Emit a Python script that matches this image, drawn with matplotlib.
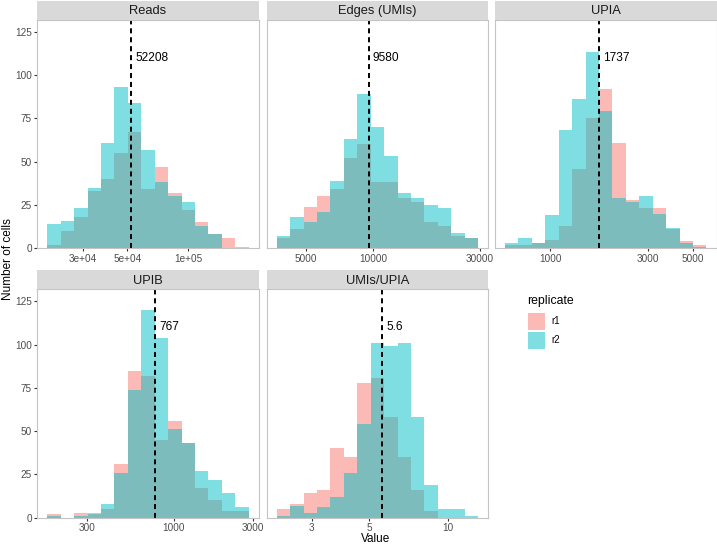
import numpy as np
import matplotlib
matplotlib.use("Agg")
import matplotlib.pyplot as plt
from matplotlib.patches import Rectangle
from matplotlib.ticker import FixedLocator, NullLocator, FixedFormatter

plt.rcParams['font.family'] = ['Liberation Sans', 'DejaVu Sans']

# ---------------- data ----------------
panels = ["Reads", "Edges (UMIs)", "UPIA", "UPIB", "UMIs/UPIA"]
replicates = ["r1", "r2"]

# outer bin edges (15 log-spaced bins) per panel
bin_lo = [20100, 3713, 602.6, 172.4, 2.203]
bin_hi = [199000, 29530, 5805, 2825, 13.10]

reads_r1 = [2, 10, 18, 33, 40, 55, 67, 34, 47, 32, 22, 15, 8, 6, 1]
reads_r2 = [14, 16, 23, 35, 61, 93, 84, 57, 38, 30, 27, 13, 8, 0, 0]
edges_r1 = [6, 11, 24, 30, 34, 52, 60, 38, 38, 29, 27, 15, 13, 7, 6]
edges_r2 = [7, 18, 15, 21, 39, 63, 89, 70, 53, 32, 29, 25, 23, 9, 6]
upia_r1 = [2, 2, 3, 5, 13, 46, 75, 92, 61, 28, 23, 23, 11, 4, 2]
upia_r2 = [3, 6, 3, 19, 68, 86, 113, 79, 29, 27, 30, 20, 12, 3, 1]
upib_r1 = [2, 0, 3, 3, 5, 31, 85, 82, 45, 56, 43, 17, 10, 4, 4]
upib_r2 = [1, 0, 1, 2, 8, 26, 74, 120, 104, 51, 43, 27, 22, 14, 6]
ratio_r1 = [5, 8, 14, 16, 40, 35, 78, 81, 58, 35, 16, 4, 0, 0, 0]
ratio_r2 = [1, 7, 3, 6, 12, 26, 54, 101, 99, 101, 58, 19, 5, 5, 1]

counts_r1 = [reads_r1, edges_r1, upia_r1, upib_r1, ratio_r1]
counts_r2 = [reads_r2, edges_r2, upia_r2, upib_r2, ratio_r2]

medians = [52208, 9580, 1737, 767, 5.6]
median_labels = ["52208", "9580", "1737", "767", "5.6"]

xticks = [[3e4, 5e4, 1e5], [5000, 10000, 30000], [1000, 3000, 5000],
          [300, 1000, 3000], [3, 5, 10]]
xtick_labels = [["3e+04", "5e+04", "1e+05"], ["5000", "10000", "30000"],
                ["1000", "3000", "5000"], ["300", "1000", "3000"],
                ["3", "5", "10"]]
yticks = [0, 25, 50, 75, 100, 125]

# ---------------- style ----------------
col_r1 = "#F8766D"
col_r2 = "#00BFC4"
W, H = 717, 545
fig = plt.figure(figsize=(W / 100, H / 100), dpi=100)


def fx(px):
    return px / W


def fy(py):
    return 1 - py / H


col_left = [37.3, 266.7, 495.0]
panel_w = 221.5
rows = [(19.5, 248.3), (289.3, 517.7)]
strip_h = 19.0
positions = [(0, 0), (0, 1), (0, 2), (1, 0), (1, 1)]

for i, name in enumerate(panels):
    r, c = positions[i]
    top, bot = rows[r]
    left = col_left[c]
    ax = fig.add_axes([fx(left), fy(bot), panel_w / W, (bot - top) / H])
    # strip
    sax = fig.add_axes([fx(left), fy(top), panel_w / W, strip_h / H])
    sax.set_facecolor("#D9D9D9")
    sax.set_xticks([]); sax.set_yticks([])
    for s in sax.spines.values():
        s.set_visible(False)
    sax.text(0.5, 0.45, name, ha="center", va="center", fontsize=9.3,
             color="#1A1A1A", transform=sax.transAxes)

    edges = np.logspace(np.log10(bin_lo[i]), np.log10(bin_hi[i]), 16)
    widths = np.diff(edges)
    ax.bar(edges[:-1], counts_r1[i], width=widths, align="edge",
           color=col_r1, alpha=0.5, linewidth=0)
    ax.bar(edges[:-1], counts_r2[i], width=widths, align="edge",
           color=col_r2, alpha=0.5, linewidth=0)
    ax.set_xscale("log")
    lr = np.log10(bin_hi[i]) - np.log10(bin_lo[i])
    ax.set_xlim(10 ** (np.log10(bin_lo[i]) - 0.05 * lr),
                10 ** (np.log10(bin_hi[i]) + 0.05 * lr))
    ax.set_ylim(0, 132)
    ax.xaxis.set_major_locator(FixedLocator(xticks[i]))
    ax.xaxis.set_major_formatter(FixedFormatter(xtick_labels[i]))
    ax.xaxis.set_minor_locator(NullLocator())
    ax.axvline(medians[i], color="black", lw=1.4, linestyle=(0, (2.6, 2.0)))
    ax.annotate(median_labels[i], xy=(medians[i], 110), xytext=(3, 0),
                textcoords="offset points", ha="left", va="center",
                fontsize=8.6, color="black")
    if c == 0:
        ax.set_yticks(yticks)
    else:
        ax.set_yticks([])
    ax.tick_params(axis="both", direction="out", length=2.4, width=0.8,
                   color="#333333", labelcolor="#4D4D4D", labelsize=7.2,
                   pad=1.5)
    for s in ax.spines.values():
        s.set_color("#C4C4C4")
        s.set_linewidth(0.8)

# axis titles
fig.text(fx(8), fy(259), "Number of cells", rotation=90, ha="center",
         va="center", fontsize=8.5, color="black")
fig.text(fx(376), fy(539), "Value", ha="center", va="center",
         fontsize=8.5, color="black")

# legend
fig.text(fx(527), fy(301), "replicate", ha="left", va="center",
         fontsize=8.8, color="black")
for k, (lab, col) in enumerate(zip(replicates, [col_r1, col_r2])):
    y0 = 312.7 + k * 19.0
    fig.add_artist(Rectangle((fx(527.7), fy(y0 + 17.3)), 17.3 / W, 17.3 / H,
                             transform=fig.transFigure, facecolor=col,
                             alpha=0.5, linewidth=0))
    fig.text(fx(551.5), fy(y0 + 8.7), lab, ha="left", va="center",
             fontsize=7.0, color="black")

fig.savefig("out.png", dpi=100)
